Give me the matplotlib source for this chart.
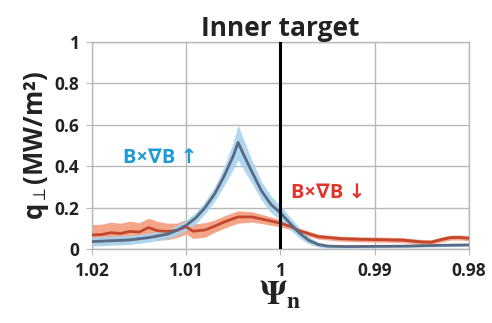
import numpy as np
import matplotlib
matplotlib.use('Agg')
import matplotlib.pyplot as plt

plt.rcParams.update({'font.family': ['Open Sans', 'DejaVu Sans'],
                     'mathtext.fontset': 'stix'})

# B x grad B up (blue)
psi_up = [1.020, 1.018, 1.016, 1.014, 1.012, 1.011, 1.010, 1.009, 1.008, 1.007,
          1.006, 1.005, 1.0045, 1.004, 1.003, 1.002, 1.001, 1.000, 0.999, 0.998,
          0.997, 0.996, 0.995, 0.993, 0.990, 0.987, 0.985, 0.983, 0.980]
q_up = [0.036, 0.040, 0.044, 0.055, 0.072, 0.090, 0.115, 0.150, 0.200, 0.265,
        0.350, 0.450, 0.515, 0.465, 0.370, 0.280, 0.215, 0.175, 0.125, 0.078,
        0.042, 0.022, 0.014, 0.012, 0.013, 0.014, 0.016, 0.018, 0.020]
err_up = [0.022, 0.022, 0.022, 0.022, 0.022, 0.024, 0.025, 0.027, 0.03, 0.035,
          0.045, 0.065, 0.085, 0.075, 0.055, 0.045, 0.04, 0.035, 0.03, 0.025,
          0.018, 0.012, 0.009, 0.007, 0.007, 0.007, 0.007, 0.007, 0.007]

# B x grad B down (red)
psi_dn = [1.020, 1.019, 1.018, 1.017, 1.016, 1.015, 1.014, 1.013, 1.012, 1.011,
          1.010, 1.0093, 1.008, 1.007, 1.006, 1.0045, 1.003, 1.002, 1.001, 1.000,
          0.999, 0.998, 0.996, 0.9936, 0.9915, 0.989, 0.987, 0.985, 0.984, 0.983,
          0.982, 0.981, 0.980]
q_dn = [0.068, 0.070, 0.079, 0.075, 0.085, 0.082, 0.104, 0.088, 0.085, 0.090,
        0.108, 0.086, 0.092, 0.110, 0.130, 0.155, 0.155, 0.145, 0.135, 0.125,
        0.110, 0.088, 0.060, 0.050, 0.047, 0.045, 0.043, 0.034, 0.033, 0.045,
        0.055, 0.056, 0.052]
err_dn = [0.05, 0.05, 0.05, 0.05, 0.05, 0.045, 0.045, 0.045, 0.04, 0.035,
          0.035, 0.035, 0.035, 0.03, 0.03, 0.03, 0.025, 0.022, 0.02, 0.018,
          0.016, 0.013, 0.012, 0.012, 0.012, 0.012, 0.012, 0.012, 0.012, 0.012,
          0.012, 0.012, 0.012]

x_ticks = [1.02, 1.01, 1.0, 0.99, 0.98]
x_labels = ['1.02', '1.01', '1', '0.99', '0.98']
y_ticks = [0, 0.2, 0.4, 0.6, 0.8, 1.0]
y_labels = ['0', '0.2', '0.4', '0.6', '0.8', '1']

fig = plt.figure(figsize=(4.92, 3.23), dpi=100)
ax = fig.add_axes([0.187, 0.229, 0.766, 0.641])

pu, qu, eu = map(np.array, (psi_up, q_up, err_up))
pd_, qd, ed = map(np.array, (psi_dn, q_dn, err_dn))

ax.fill_between(pd_, np.clip(qd - ed, 0, None), qd + ed, color='#f5a68a', lw=0, zorder=2)
ax.fill_between(pu, np.clip(qu - eu, 0, None), qu + eu, color='#a6d3ee', lw=0, alpha=0.9, zorder=3)
ax.plot(pd_, qd, color='#c2472c', lw=2.0, zorder=4)
ax.plot(pu, qu, color='#5b6983', lw=2.0, zorder=5)
ax.axvline(1.0, color='black', lw=2.2, zorder=6)

ax.set_xlim(1.02, 0.98)
ax.set_ylim(0, 1)
ax.set_xticks(x_ticks, x_labels, fontweight='bold')
ax.set_yticks(y_ticks, y_labels, fontweight='bold')
ax.grid(True, color='#b8b8b8', lw=1.0, zorder=0)
ax.set_axisbelow(True)
for s in ax.spines.values():
    s.set_color('#b8b8b8')
    s.set_linewidth(1.0)
ax.tick_params(length=4, color='#b8b8b8', labelsize=12.5, labelcolor='#222222', pad=5)

ax.set_title('Inner target', fontsize=19, fontweight='bold', color='#222222', pad=2)
ax.set_ylabel(r'q$_{\perp}$(MW/m²)', fontsize=18.5, fontweight='bold', color='#222222', labelpad=3)
ax.set_xlabel(r'$\mathbf{\Psi}_{\mathsf{\mathbf{n}}}$', fontsize=24, color='#222222', labelpad=0)

ax.text(1.0128, 0.44, 'B×∇B ↑', color='#1e9ad6', fontsize=14.5, fontweight='bold',
        ha='center', va='center')
ax.text(0.9949, 0.27, 'B×∇B ↓', color='#e0352b', fontsize=14.5, fontweight='bold',
        ha='center', va='center')

fig.savefig('out.png', dpi=100)
